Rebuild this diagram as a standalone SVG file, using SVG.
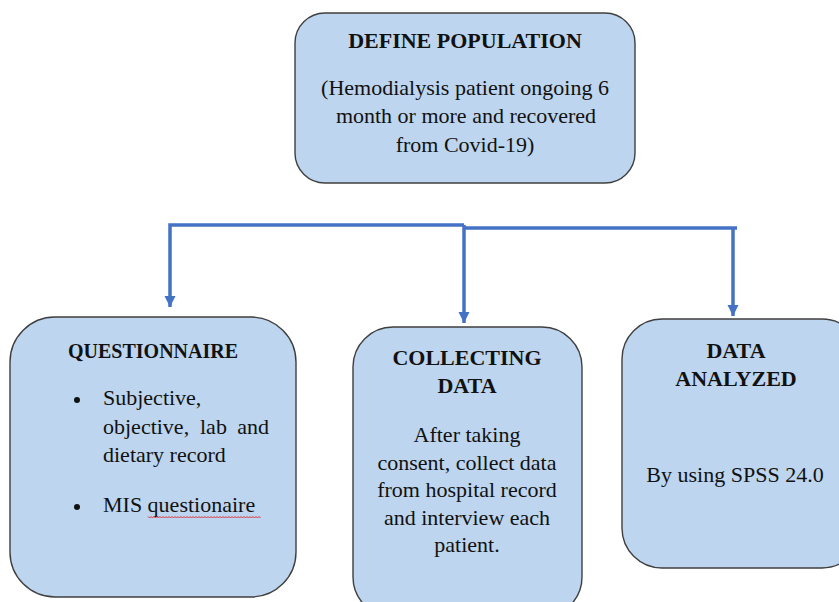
<svg xmlns="http://www.w3.org/2000/svg" width="839" height="602" viewBox="0 0 839 602">
<style>
.box{fill:#BDD5EE;stroke:#3f3f3f;stroke-width:1.4}
.t{font-family:"Liberation Serif","Times New Roman",serif;fill:#111}
.s22{font-size:22px}
.s20{font-size:20px}
.b{font-weight:bold}
.c{text-anchor:middle}
.con{fill:none;stroke:#4472C4;stroke-width:3.5}
</style>
<defs>
<marker id="ah" markerUnits="userSpaceOnUse" markerWidth="12" markerHeight="12" refX="11" refY="6" orient="auto" viewBox="0 0 12 12">
<path d="M0,0.5 L11,6 L0,11.5 Z" fill="#4472C4"/>
</marker>
</defs>
<rect width="839" height="602" fill="#fff"/>
<g id="define-population">
<rect class="box" x="295" y="13" width="340" height="170" rx="30"/>
<text class="t b c s22" x="465" y="48">DEFINE POPULATION</text>
<text class="t c s22" x="465" y="95">(Hemodialysis patient ongoing 6</text>
<text class="t c s22" x="466" y="123">month or more and recovered</text>
<text class="t c s22" x="465" y="152">from Covid-19)</text>
</g>
<g id="questionnaire">
<rect class="box" x="10" y="317" width="286" height="280" rx="45"/>
<text class="t b s20" x="68" y="358">QUESTIONNAIRE</text>
<circle cx="77" cy="400" r="3" fill="#111"/>
<text class="t s22" x="103" y="405">Subjective,</text>
<text class="t s22" x="103" y="434">objective,</text>
<text class="t s22" x="200" y="434">lab</text>
<text class="t s22" x="269" y="434" text-anchor="end">and</text>
<text class="t s22" x="103" y="462">dietary record</text>
<circle cx="77" cy="507" r="3" fill="#111"/>
<text class="t s22" x="103" y="512">MIS questionaire</text>
<path d="M148,516.5 l1.5,1.5 l1.5,-1.5 l1.5,1.5 l1.5,-1.5 l1.5,1.5 l1.5,-1.5 l1.5,1.5 l1.5,-1.5 l1.5,1.5 l1.5,-1.5 l1.5,1.5 l1.5,-1.5 l1.5,1.5 l1.5,-1.5 l1.5,1.5 l1.5,-1.5 l1.5,1.5 l1.5,-1.5 l1.5,1.5 l1.5,-1.5 l1.5,1.5 l1.5,-1.5 l1.5,1.5 l1.5,-1.5 l1.5,1.5 l1.5,-1.5 l1.5,1.5 l1.5,-1.5 l1.5,1.5 l1.5,-1.5 l1.5,1.5 l1.5,-1.5 l1.5,1.5 l1.5,-1.5 l1.5,1.5 l1.5,-1.5 l1.5,1.5 l1.5,-1.5 l1.5,1.5 l1.5,-1.5 l1.5,1.5 l1.5,-1.5 l1.5,1.5 l1.5,-1.5 l1.5,1.5 l1.5,-1.5 l1.5,1.5 l1.5,-1.5 l1.5,1.5 l1.5,-1.5 l1.5,1.5 l1.5,-1.5 l1.5,1.5 l1.5,-1.5 l1.5,1.5 l1.5,-1.5 l1.5,1.5 l1.5,-1.5 l1.5,1.5 l1.5,-1.5 l1.5,1.5 l1.5,-1.5 l1.5,1.5 l1.5,-1.5 l1.5,1.5 l1.5,-1.5 l1.5,1.5 l1.5,-1.5 l1.5,1.5 l1.5,-1.5 l1.5,1.5 l1.5,-1.5 l1.5,1.5 l1.5,-1.5 l1.5,1.5" fill="none" stroke="#e0303a" stroke-width="1"/>
</g>
<g id="collecting-data">
<rect class="box" x="353" y="327" width="229" height="290" rx="40"/>
<text class="t b c s22" x="467" y="365">COLLECTING</text>
<text class="t b c s22" x="467" y="393">DATA</text>
<text class="t c s22" x="467" y="442">After taking</text>
<text class="t c s22" x="467" y="470">consent, collect data</text>
<text class="t c s22" x="467" y="497">from hospital record</text>
<text class="t c s22" x="467" y="525">and interview each</text>
<text class="t c s22" x="467" y="552">patient.</text>
</g>
<g id="data-analyzed">
<rect class="box" x="622" y="319" width="240" height="249" rx="40"/>
<text class="t b c s22" x="736" y="358">DATA</text>
<text class="t b c s22" x="736" y="386">ANALYZED</text>
<text class="t c s22" x="735" y="482">By using SPSS 24.0</text>
</g>
<g id="connectors">
<path class="con" d="M464,225 L170,225 L170,307" marker-end="url(#ah)"/>
<path class="con" d="M464,225 L464,323" marker-end="url(#ah)"/>
<path class="con" d="M464,228 L737,228"/>
<path class="con" d="M733,228 L733,316" marker-end="url(#ah)"/>
</g>
</svg>
